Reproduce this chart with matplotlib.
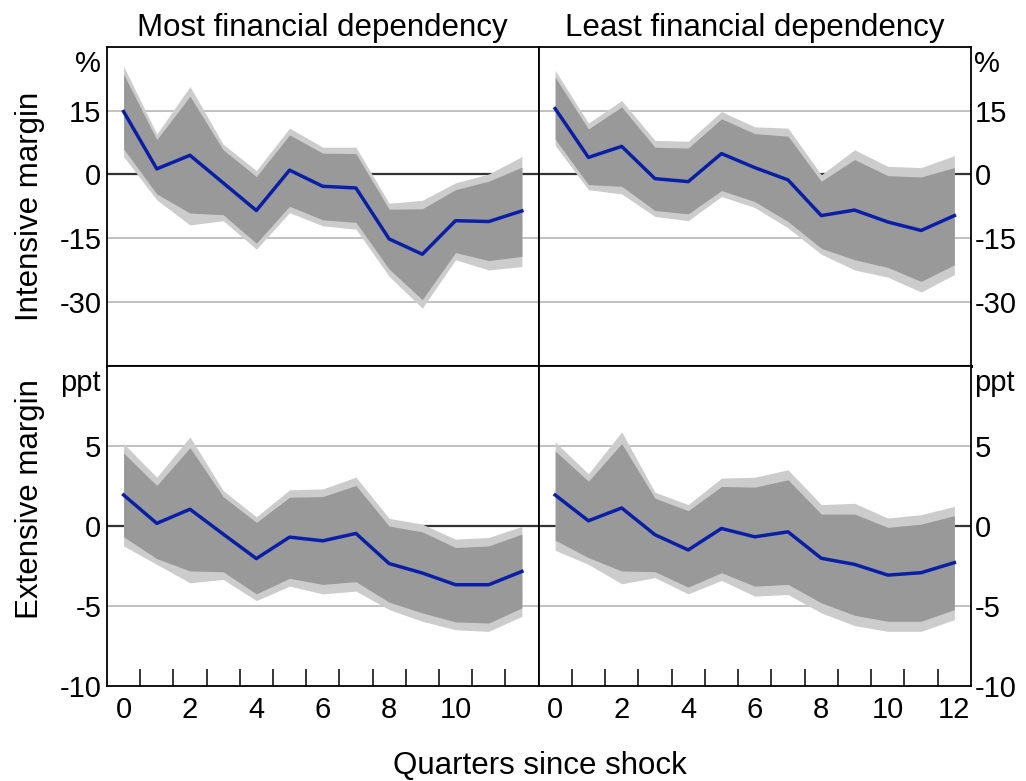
import matplotlib.pyplot as plt
import numpy as np

plt.rcParams["font.family"] = ["Liberation Sans", "DejaVu Sans"]

quarters = list(range(13))

# intensive margin, most financial dependency (%)
int_most_mid = [14.8, 1.3, 4.5, -2.0, -8.5, 1.0, -2.8, -3.2, -15.2, -18.8, -10.9, -11.1, -8.6]
int_most_in_hi = [23.6, 8.2, 18.4, 5.8, -0.5, 9.3, 5.0, 4.9, -8.2, -8.1, -3.6, -1.6, 1.7]
int_most_in_lo = [6.0, -4.6, -9.1, -9.5, -16.2, -7.5, -10.7, -11.3, -22.3, -29.5, -18.4, -20.3, -19.3]
int_most_out_hi = [25.5, 9.5, 20.7, 7.1, 0.9, 10.9, 6.4, 6.4, -6.8, -6.1, -2.0, 0.1, 4.2]
int_most_out_lo = [4.2, -6.0, -11.9, -10.9, -17.6, -9.0, -12.1, -12.9, -24.0, -31.5, -20.1, -22.5, -21.7]

# intensive margin, least financial dependency (%)
int_least_mid = [15.5, 4.0, 6.6, -1.0, -1.7, 4.9, 1.6, -1.3, -9.7, -8.4, -11.2, -13.2, -9.7]
int_least_in_hi = [22.9, 10.7, 15.9, 6.4, 6.2, 13.1, 9.6, 9.0, -1.6, 3.5, -0.3, -0.6, 1.6]
int_least_in_lo = [8.3, -2.4, -2.8, -8.5, -9.3, -3.8, -6.4, -11.1, -17.4, -20.1, -21.9, -25.2, -21.3]
int_least_out_hi = [24.5, 12.1, 17.4, 8.0, 7.8, 14.8, 11.2, 10.9, -0.1, 5.8, 1.9, 1.6, 4.4]
int_least_out_lo = [6.8, -3.6, -4.6, -9.9, -10.9, -5.2, -7.8, -12.6, -18.8, -22.5, -24.2, -27.7, -23.6]

# extensive margin, most financial dependency (ppt)
ext_most_mid = [1.92, 0.15, 1.03, -0.52, -2.05, -0.71, -0.94, -0.48, -2.36, -2.95, -3.68, -3.68, -2.85]
ext_most_in_hi = [4.54, 2.51, 4.87, 1.82, 0.21, 1.78, 1.82, 2.51, -0.02, -0.38, -1.36, -1.26, -0.52]
ext_most_in_lo = [-0.69, -2.05, -2.82, -2.87, -4.25, -3.28, -3.66, -3.49, -4.77, -5.44, -6.0, -6.07, -5.13]
ext_most_out_hi = [5.13, 3.03, 5.54, 2.2, 0.56, 2.24, 2.3, 3.03, 0.46, 0.1, -0.84, -0.73, -0.04]
ext_most_out_lo = [-1.26, -2.41, -3.56, -3.35, -4.67, -3.77, -4.25, -4.08, -5.23, -5.96, -6.49, -6.59, -5.65]

# extensive margin, least financial dependency (ppt)
ext_least_mid = [1.92, 0.31, 1.11, -0.56, -1.51, -0.17, -0.69, -0.38, -2.03, -2.41, -3.08, -2.93, -2.30]
ext_least_in_hi = [4.67, 2.78, 5.13, 1.72, 0.94, 2.45, 2.41, 2.87, 0.73, 0.73, -0.1, 0.1, 0.63]
ext_least_in_lo = [-0.9, -1.99, -2.82, -2.87, -3.83, -2.93, -3.77, -3.66, -4.81, -5.59, -5.96, -5.96, -5.23]
ext_least_out_hi = [5.23, 3.24, 5.86, 2.09, 1.32, 2.97, 3.03, 3.49, 1.32, 1.4, 0.48, 0.69, 1.21]
ext_least_out_lo = [-1.53, -2.41, -3.62, -3.24, -4.25, -3.41, -4.39, -4.29, -5.44, -6.23, -6.59, -6.59, -5.86]

fig = plt.figure(figsize=(10.26, 7.81), dpi=100)

W, H = 1026, 781
xl, xr, xe = 107, 538.5, 971
yt, ym, yb = 47, 365.5, 686

ax_tl = fig.add_axes([xl / W, 1 - ym / H, (xr - xl) / W, (ym - yt) / H])
ax_tr = fig.add_axes([xr / W, 1 - ym / H, (xe - xr) / W, (ym - yt) / H])
ax_bl = fig.add_axes([xl / W, 1 - yb / H, (xr - xl) / W, (yb - ym) / H])
ax_br = fig.add_axes([xr / W, 1 - yb / H, (xe - xr) / W, (yb - ym) / H])

panels = [
    (ax_tl, int_most_mid, int_most_in_lo, int_most_in_hi, int_most_out_lo, int_most_out_hi),
    (ax_tr, int_least_mid, int_least_in_lo, int_least_in_hi, int_least_out_lo, int_least_out_hi),
    (ax_bl, ext_most_mid, ext_most_in_lo, ext_most_in_hi, ext_most_out_lo, ext_most_out_hi),
    (ax_br, ext_least_mid, ext_least_in_lo, ext_least_in_hi, ext_least_out_lo, ext_least_out_hi),
]

fs_tick = 21
fs_lab = 22.5

for ax, mid, in_lo, in_hi, out_lo, out_hi in panels:
    top = ax in (ax_tl, ax_tr)
    ax.set_xlim(-0.5, 12.5)
    if top:
        ax.set_ylim(-45, 30)
        yt_vals = [15, 0, -15, -30]
    else:
        ax.set_ylim(-10, 10)
        yt_vals = [5, 0, -5, -10]
    for v in yt_vals:
        if v == 0:
            ax.axhline(0, color="#333333", lw=1.6, zorder=1)
        elif v != -10:
            ax.axhline(v, color="#b0b0b0", lw=1.1, zorder=1)
    ax.fill_between(quarters, out_lo, out_hi, color="#cccccc", lw=0, zorder=2)
    ax.fill_between(quarters, in_lo, in_hi, color="#999999", lw=0, zorder=3)
    ax.plot(quarters, mid, color="#0a1fa8", lw=2.5, zorder=4)

    ax.set_yticks(yt_vals)
    ax.set_yticklabels([str(v) for v in yt_vals])
    if ax in (ax_tr, ax_br):
        ax.yaxis.tick_right()
        ax.tick_params(axis="y", length=0, labelsize=fs_tick, pad=3)
        ux, ha = 1.006, "left"
    else:
        ax.tick_params(axis="y", length=0, labelsize=fs_tick, pad=4)
        ux, ha = -0.015, "right"
    ax.text(ux, 0.99, "%" if top else "ppt", transform=ax.transAxes,
            ha=ha, va="top", fontsize=fs_tick)

    if top:
        ax.set_xticks([])
    else:
        ax.set_xticks(np.arange(0.5, 12.5, 1.0), minor=True)
        ax.tick_params(axis="x", which="minor", direction="in", length=12, width=1.1)
        if ax is ax_bl:
            maj = [0, 2, 4, 6, 8, 10]
        else:
            maj = [0, 2, 4, 6, 8, 10, 12]
        ax.set_xticks(maj)
        ax.set_xticklabels([str(v) for v in maj])
        ax.tick_params(axis="x", which="major", length=0, labelsize=fs_tick, pad=7)
    for s in ax.spines.values():
        s.set_linewidth(1.3)
        s.set_color("black")
    if top:
        ax.spines["bottom"].set_linewidth(2.2)

ax_tl.set_title("Most financial dependency", fontsize=fs_lab, pad=8)
ax_tr.set_title("Least financial dependency", fontsize=fs_lab, pad=8)

fig.text(30 / W, 1 - 206 / H, "Intensive margin", rotation=90,
         ha="center", va="center", fontsize=fs_lab)
fig.text(30 / W, 1 - 499 / H, "Extensive margin", rotation=90,
         ha="center", va="center", fontsize=fs_lab)
fig.text(540 / W, 1 - 766 / H, "Quarters since shock",
         ha="center", va="center", fontsize=fs_lab)

fig.savefig("out.png", dpi=100)
